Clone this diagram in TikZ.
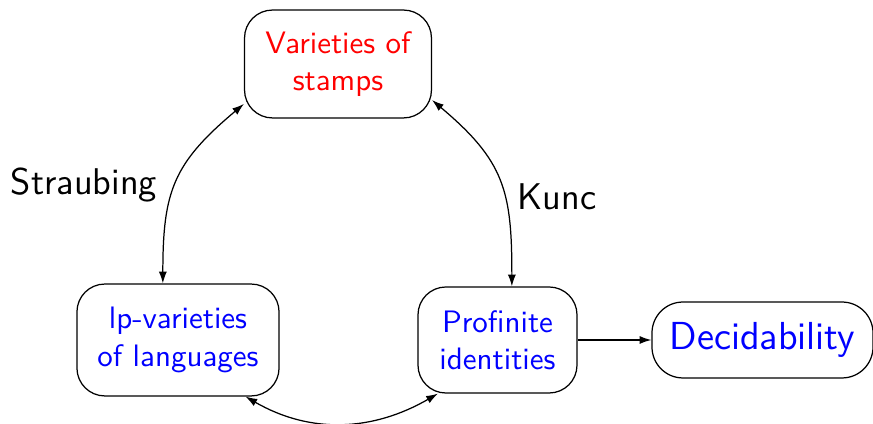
\documentclass[tikz,border=0pt]{standalone}
\usetikzlibrary{arrows.meta}
\begin{document}
\begin{tikzpicture}[x=0.3226pt,y=0.3226pt,
  font=\sffamily,
  box/.style={draw, rounded corners=9pt, align=center, inner sep=2pt},
  link/.style={{Latex[length=3.8pt,width=2.6pt]}-{Latex[length=3.8pt,width=2.6pt]}},
  oneway/.style={-{Latex[length=3.8pt,width=2.6pt]}}]
\useasboundingbox (0,0) rectangle (873,424);

% the four statements
\node[box, text=red, minimum width=60.3pt, minimum height=34.8pt] (top) at (338,360) {Varieties of\\stamps};
\node[box, text=blue, minimum width=65.2pt, minimum height=36.1pt] (lang) at (178,84) {lp-varieties\\of languages};
\node[box, text=blue, minimum width=51.3pt, minimum height=34.2pt] (prof) at (497.5,84) {Profinite\\identities};
\node[box, text=blue, font=\sffamily\fontsize{12.6}{15}\selectfont, minimum width=71.3pt, minimum height=24.5pt, rounded corners=10pt] (dec) at (762.5,84) {Decidability};

% names of the correspondences
\node[font=\sffamily\large] (straubing) at (84,239) {Straubing};
\node[font=\sffamily\large] (kunc) at (557,227) {Kunc};

% correspondences between them
\draw[link] (top.203) to[out=220, in=90, looseness=1.2] (lang.105);
\draw[link] (top.-21) to[out=-40, in=90, looseness=1.2] (prof.75);
\draw[link] (lang.-40) to[out=-30, in=210] (prof.222);
\draw[oneway] (prof) -- (dec);
\end{tikzpicture}
\end{document}
